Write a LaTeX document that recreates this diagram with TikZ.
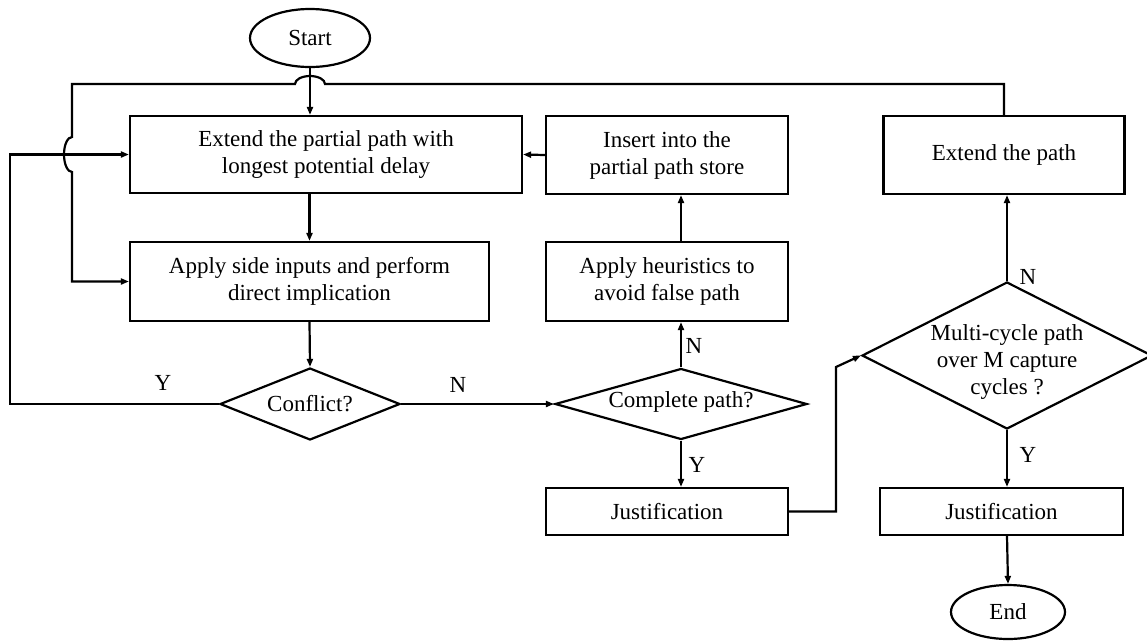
\documentclass[tikz,border=0pt]{standalone}
\usepackage{fontspec}
\setmainfont{Liberation Serif}
\usetikzlibrary{arrows.meta,shapes.geometric}
\tikzset{
  box/.style={draw,rectangle,inner sep=0pt,align=center,font=\fontsize{23}{27}\selectfont},
  dia/.style={draw,diamond,inner sep=0pt},
  term/.style={draw,ellipse,inner sep=0pt,font=\fontsize{23}{27}\selectfont},
  txt/.style={inner sep=0pt,align=center,font=\fontsize{23}{27}\selectfont},
  lbl/.style={inner sep=0pt,font=\fontsize{23}{27}\selectfont},
  arr/.style={-{Triangle[length=8pt,width=6pt]}},
}
\begin{document}
\begin{tikzpicture}[x=1pt,y=-1pt,line width=2.2pt]
\useasboundingbox (0,0) rectangle (1147,641);
% nodes
\node[term,minimum width=120pt,minimum height=58pt] (start) at (310,38) {Start};
\node[box,minimum width=392pt,minimum height=77pt] (box1) at (326,154.5) {Extend the partial path with\\longest potential delay};
\node[box,minimum width=242pt,minimum height=78pt] (ins) at (667,155) {Insert into the\\partial path store};
\node[box,minimum width=241pt,minimum height=78pt] (ext) at (1004,155) {Extend the path};
\node[box,minimum width=359pt,minimum height=79pt] (box2) at (309.5,281.5) {Apply side inputs and perform\\direct implication};
\node[box,minimum width=242pt,minimum height=79pt] (heur) at (667,281.5) {Apply heuristics to\\avoid false path};
\node[dia,minimum width=180pt,minimum height=72pt] (conf) at (310,404) {};
\node[txt] (conft) at (310,404) {Conflict?};
\node[dia,minimum width=252pt,minimum height=71pt] (cd) at (681,404) {};
\node[txt] (cdt) at (681,402) {Complete path?};
\node[box,minimum width=242pt,minimum height=47pt] (j1) at (667,511.5) {Justification};
\node[dia,minimum width=290pt,minimum height=147pt] (md) at (1007,355.5) {};
\node[txt] (mdt) at (1007,362) {Multi-cycle path\\over M capture\\cycles ?};
\node[box,minimum width=243pt,minimum height=47pt] (j2) at (1001.5,511.5) {Justification};
\node[term,minimum width=114pt,minimum height=54pt] (end) at (1008,612) {End};
% labels
\node[lbl] (ly1) at (163,383) {Y};
\node[lbl] (ln1) at (458,385) {N};
\node[lbl] (ln2) at (694,346) {N};
\node[lbl] (ly2) at (697,465) {Y};
\node[lbl] (ln3) at (1028,277) {N};
\node[lbl] (ly3) at (1028,455) {Y};
% connectors
\draw[arr] (start.south) -- (start.south |- box1.north);
\draw[arr] (box2.north |- box1.south) -- (box2.north);
\draw[arr] (ins.west) -- (box1.east);
\draw[arr] (box2.south) -- (conf.north);
\draw[arr] (conf.east) -- (cd.west);
\draw[arr] (cd.north) -- (cd.north |- heur.south);
\draw[arr] (cd.north |- heur.north) -- (cd.north |- ins.south);
\draw[arr] (cd.south) -- (cd.south |- j1.north);
\draw[arr] (md.north) -- (md.north |- ext.south);
\draw[arr] (md.south) -- (md.south |- j2.north);
\draw[arr] (md.south |- j2.south) -- (end.north);
\draw[arr] (j1.east) -- (836,511.5) -- (836,367) -- (md.west);
\draw[arr] (conf.west) -- (10,404) -- (10,154.5) -- (box1.west);
\draw[arr] (ext.north) -- (1004,84) -- (325,84)
  arc[start angle=0, end angle=-180, x radius=15, y radius=8] -- (72,84) -- (72,137)
  arc[start angle=270, end angle=90, x radius=8, y radius=17.5] -- (72,281.5) -- (box2.west);
\end{tikzpicture}
\end{document}
